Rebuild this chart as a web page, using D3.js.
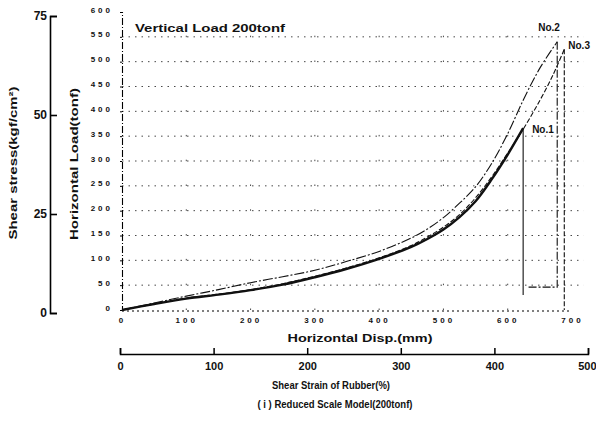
<!doctype html>
<html>
<head>
<meta charset="utf-8">
<title>Reduced Scale Model (200tonf)</title>
<style>
    body { margin: 0; background: #fff; }
    text { font-family: "Liberation Sans", Arial, sans-serif; font-weight: bold; fill: #111; }
</style>
</head>
<body>
<script src="https://cdn.jsdelivr.net/npm/d3@7"></script>
<script>
    // tick values
    var dispTicks = [0, 100, 200, 300, 400, 500, 600, 700];
    var loadTicks = [0, 50, 100, 150, 200, 250, 300, 350, 400, 450, 500, 550, 600];
    var strainTicks = [0, 100, 200, 300, 400, 500];
    var stressTicks = [0, 25, 50, 75];

    // load (tonf) against horizontal displacement (mm)
    var no1Disp = [0, 50, 100, 150, 200, 250, 300, 350, 400, 450, 475, 500, 525, 550, 575, 600, 624];
    var no1Load = [0, 12, 23, 31, 40, 51, 66, 83, 103, 127, 143, 162, 187, 219, 263, 313, 366];
    var no2Disp = [0, 50, 100, 150, 200, 250, 300, 350, 400, 450, 475, 500, 525, 550, 575, 600, 625, 650, 677];
    var no2Load = [0, 14, 28, 41, 55, 67, 80, 98, 118, 145, 163, 186, 215, 248, 295, 355, 425, 487, 540];
    var no3Disp = [0, 50, 100, 150, 200, 250, 300, 350, 400, 450, 475, 500, 525, 550, 575, 600, 625, 650, 670, 688];
    var no3Load = [0, 12, 24, 32, 41, 53, 68, 85, 105, 130, 147, 167, 192, 226, 268, 316, 366, 422, 472, 525];

    // load drop after rupture
    var no1TailDisp = [624, 624];
    var no1TailLoad = [366, 30];
    var no2TailDisp = [677, 677, 630];
    var no2TailLoad = [540, 46, 46];
    var no3TailDisp = [688, 688];
    var no3TailLoad = [525, 0];

    var w = 596;
    var h = 433;

    var svg = d3.select("body")
        .append("svg")
        .attr("width", w)
        .attr("height", h);

    // scales
    var x = d3.scaleLinear().domain([0, 700]).range([122, 572]);
    var y = d3.scaleLinear().domain([0, 600]).range([310, 12]);
    var strain = d3.scaleLinear().domain([0, 500]).range([120, 588]);
    var stress = d3.scaleLinear().domain([0, 75]).range([313, 16]);

    // dotted grid
    var grid = svg.append("g");
    grid.selectAll("line.h")
        .data(loadTicks.slice(1, -1))
        .enter()
        .append("line")
        .attr("x1", x(0)).attr("x2", x(718))
        .attr("y1", function (d) { return y(d); })
        .attr("y2", function (d) { return y(d); })
        .style("stroke", "#333")
        .style("stroke-width", 0.9)
        .style("stroke-dasharray", "1.5,5");
    grid.selectAll("line.v")
        .data(dispTicks.slice(1, -1))
        .enter()
        .append("line")
        .attr("x1", function (d) { return x(d); })
        .attr("x2", function (d) { return x(d); })
        .attr("y1", y(0)).attr("y2", y(560))
        .style("stroke", "#333")
        .style("stroke-width", 0.9)
        .style("stroke-dasharray", "1.5,23.3");

    // inner load axis
    var gLoad = svg.append("g")
        .attr("transform", "translate(" + x(0) + ",0)")
        .call(d3.axisLeft(y).tickValues(loadTicks).tickSize(2).tickPadding(7));
    gLoad.select(".domain").style("stroke-dasharray", "7,2,1,2").style("stroke-width", 1.1);
    gLoad.selectAll("text")
        .attr("dy", "0.0em")
        .style("font-size", "8px")
        .style("letter-spacing", "3px")
        .style("font-family", "Liberation Sans")
        .style("font-weight", "bold");

    // horizontal displacement axis
    var gDisp = svg.append("g")
        .attr("transform", "translate(0," + (y(0) + 1) + ")")
        .call(d3.axisBottom(x).tickValues(dispTicks).tickSize(0).tickPadding(6));
    gDisp.select(".domain").attr("d", "M" + x(0) + ",0H" + x(700)).style("stroke-dasharray", "2,3");
    gDisp.selectAll("text")
        .style("font-size", "8px")
        .style("letter-spacing", "3px")
        .style("font-family", "Liberation Sans")
        .style("font-weight", "bold");

    // shear strain axis
    var gStrain = svg.append("g")
        .attr("transform", "translate(0,354)")
        .call(d3.axisBottom(strain).tickValues(strainTicks).tickSizeInner(-6).tickSizeOuter(-6).tickPadding(8));
    gStrain.selectAll("path, line").style("stroke-width", 1.5);
    gStrain.selectAll("text")
        .style("font-size", "11px")
        .style("font-family", "Liberation Sans")
        .style("font-weight", "bold");
    // keep the last label inside the page
    gStrain.selectAll(".tick text")
        .filter(function (d) { return d === 500; })
        .attr("text-anchor", "end")
        .attr("x", 8);

    // shear stress axis
    var gStress = svg.append("g")
        .attr("transform", "translate(50,0)")
        .call(d3.axisLeft(stress).tickValues(stressTicks).tickSizeInner(-7).tickSizeOuter(-7).tickPadding(3));
    gStress.selectAll("path, line").style("stroke-width", 1.6);
    gStress.selectAll("text")
        .style("font-size", "12px")
        .style("font-family", "Liberation Sans")
        .style("font-weight", "bold");

    // curves
    var series = [
        { name: "No.1", disp: no1Disp, load: no1Load, tailDisp: no1TailDisp, tailLoad: no1TailLoad, width: 2.4, dash: null, tailDash: null, dx: 9, dy: 1 },
        { name: "No.2", disp: no2Disp, load: no2Load, tailDisp: no2TailDisp, tailLoad: no2TailLoad, width: 1.1, dash: "10,2,2,2", tailDash: "8,2,2,2", dx: -19, dy: -14 },
        { name: "No.3", disp: no3Disp, load: no3Load, tailDisp: no3TailDisp, tailLoad: no3TailLoad, width: 1.1, dash: "5,2", tailDash: "5,2", dx: 4, dy: -4 }
    ];

    var line = d3.line()
        .x(function (d) { return x(d[0]); })
        .y(function (d) { return y(d[1]); })
        .curve(d3.curveCatmullRom);
    var tail = d3.line()
        .x(function (d) { return x(d[0]); })
        .y(function (d) { return y(d[1]); });

    var layerCurves = svg.append("g");
    series.forEach(function (s) {
        layerCurves.append("path")
            .attr("d", line(d3.zip(s.disp, s.load)))
            .style("fill", "none")
            .style("stroke", "#111")
            .style("stroke-width", s.width)
            .style("stroke-dasharray", s.dash);
        layerCurves.append("path")
            .attr("d", tail(d3.zip(s.tailDisp, s.tailLoad)))
            .style("fill", "none")
            .style("stroke", "#111")
            .style("stroke-width", 1.1)
            .style("stroke-dasharray", s.tailDash);
        var n = s.disp.length - 1;
        layerCurves.append("text")
            .attr("x", x(s.disp[n]) + s.dx)
            .attr("y", y(s.load[n]) + s.dy)
            .attr("dominant-baseline", "central")
            .style("font-size", "10px")
            .text(s.name);
    });

    // titles
    svg.append("text")
        .attr("x", 135).attr("y", 28)
        .attr("dominant-baseline", "central")
        .attr("textLength", 150)
        .attr("lengthAdjust", "spacingAndGlyphs")
        .style("font-size", "11px")
        .text("Vertical Load 200tonf");

    svg.append("text")
        .attr("transform", "translate(13,163) rotate(-90)")
        .attr("text-anchor", "middle")
        .attr("dominant-baseline", "central")
        .attr("textLength", 153)
        .attr("lengthAdjust", "spacingAndGlyphs")
        .style("font-size", "11px")
        .text("Shear stress(kgf/cm²)");

    svg.append("text")
        .attr("transform", "translate(74,164) rotate(-90)")
        .attr("text-anchor", "middle")
        .attr("dominant-baseline", "central")
        .attr("textLength", 152)
        .attr("lengthAdjust", "spacingAndGlyphs")
        .style("font-size", "11px")
        .text("Horizontal Load(tonf)");

    svg.append("text")
        .attr("x", 360).attr("y", 338)
        .attr("text-anchor", "middle")
        .attr("dominant-baseline", "central")
        .attr("textLength", 145)
        .attr("lengthAdjust", "spacingAndGlyphs")
        .style("font-size", "11px")
        .text("Horizontal Disp.(mm)");

    svg.append("text")
        .attr("x", 331).attr("y", 385)
        .attr("text-anchor", "middle")
        .attr("dominant-baseline", "central")
        .attr("textLength", 118)
        .attr("lengthAdjust", "spacingAndGlyphs")
        .style("font-size", "11px")
        .text("Shear Strain of Rubber(%)");

    svg.append("text")
        .attr("x", 335).attr("y", 404)
        .attr("text-anchor", "middle")
        .attr("dominant-baseline", "central")
        .attr("textLength", 155)
        .attr("lengthAdjust", "spacingAndGlyphs")
        .style("font-size", "10.5px")
        .text("( i ) Reduced Scale Model(200tonf)");
</script>
</body>
</html>
